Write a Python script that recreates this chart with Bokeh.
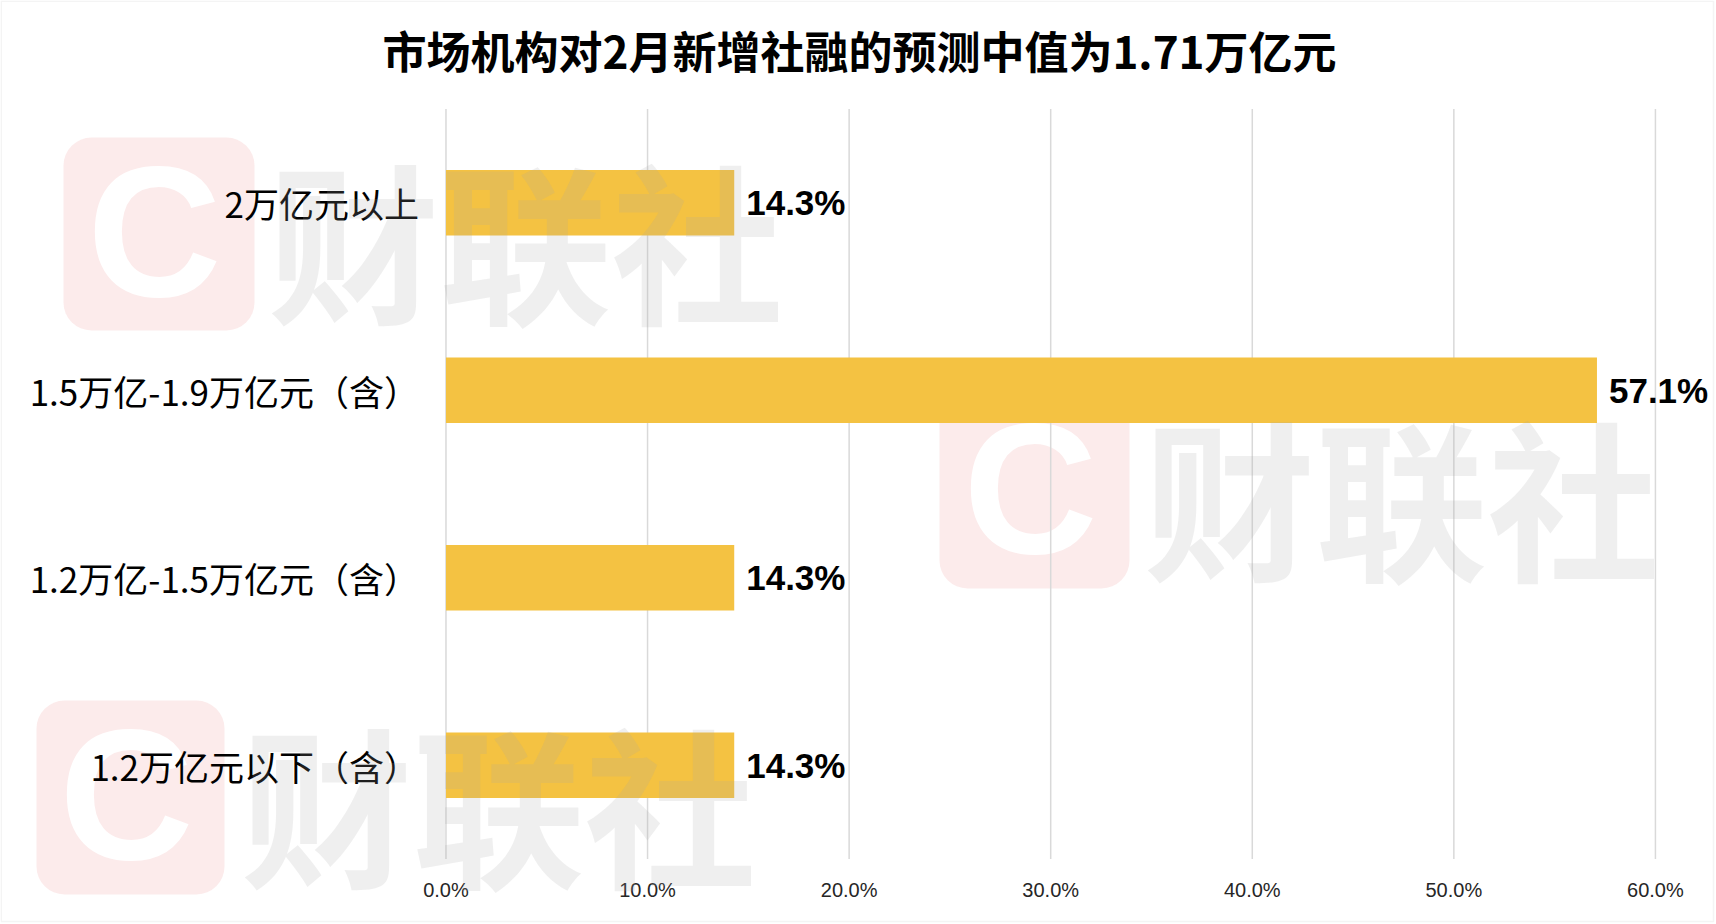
from bokeh.plotting import figure
from bokeh.models import (Range1d, FixedTicker, NumeralTickFormatter,
                          ColumnDataSource, LabelSet, Label, BoxAnnotation)
from bokeh.core.properties import value
from bokeh.embed import file_html
from bokeh.resources import INLINE

# ---- data ----
categories = ["2万亿元以上", "1.5万亿-1.9万亿元（含）", "1.2万亿-1.5万亿元（含）", "1.2万亿元以下（含）"]
shares = [0.143, 0.571, 0.143, 0.143]
share_labels = ["14.3%", "57.1%", "14.3%", "14.3%"]
x_ticks = [0.0, 0.1, 0.2, 0.3, 0.4, 0.5, 0.6]
title_text = "市场机构对2月新增社融的预测中值为1.71万亿元"

CJK = "Noto Sans CJK SC"
BAR = "#F4C242"
GRID = "#d9d9d9"

n = len(categories)
ypos = list(range(n))[::-1]          # top category at the top
src = ColumnDataSource(dict(y=ypos, cat=categories, val=shares, lab=share_labels))

W, H = 1716, 924
X0, X1 = -0.2210, 0.6303
Y0, Y1 = -0.8493, n - 0.5 + 0.5787
p = figure(width=W, height=H,
           x_range=Range1d(X0, X1), y_range=Range1d(Y0, Y1),
           output_backend="svg", toolbar_location=None,
           min_border_left=0, min_border_right=0,
           min_border_top=0, min_border_bottom=0)
p.outline_line_color = None
p.background_fill_color = "white"
p.border_fill_color = "white"
p.xgrid.grid_line_color = None
p.ygrid.grid_line_color = None


def dx(px):  # screen px (from left) -> data x, for the decorative watermark only
    return X0 + px * (X1 - X0) / W


def dy(py):  # screen px (from bottom) -> data y
    return Y0 + py * (Y1 - Y0) / H


# watermark logo squares with the "C" (decorative), drawn underneath
marks = [
    dict(sq=(63, 254, 787, 594), c=(154, 693), t=(525, 689)),
    dict(sq=(939, 1129, 530, 336), c=(1030, 436), t=(1401, 431.5)),
    dict(sq=(36, 224, 224, 30), c=(126, 130), t=(498, 125)),
]
p.quad(left=[dx(m["sq"][0]) for m in marks], right=[dx(m["sq"][1]) for m in marks],
       top=[dy(m["sq"][2]) for m in marks], bottom=[dy(m["sq"][3]) for m in marks],
       fill_color="#e63c3c", fill_alpha=0.1, line_color=None, border_radius=28)
p.text(x=[dx(m["c"][0]) for m in marks], y=[dy(m["c"][1]) for m in marks],
       text=["C"] * len(marks), text_align="center", text_baseline="middle",
       text_font=value("Liberation Sans"), text_font_style="bold",
       text_font_size=value("186px"), text_color="white")

# vertical grid lines at the tick values, spanning the category band
p.segment(x0=x_ticks, x1=x_ticks, y0=[-0.5] * len(x_ticks), y1=[n - 0.5] * len(x_ticks),
          line_color=GRID, line_width=1.5)

p.hbar(y="y", right="val", left=0, height=0.35, source=src,
       fill_color=BAR, line_color=None)

# axes (fixed inside the frame so that nothing is clipped)
xa = p.xaxis[0]
xa.fixed_location = -0.5
xa.ticker = FixedTicker(ticks=x_ticks)
xa.formatter = NumeralTickFormatter(format="0.0%")
xa.axis_line_color = None
xa.major_tick_line_color = None
xa.minor_tick_line_color = None
xa.major_tick_out = 0
xa.major_tick_in = 0
xa.major_label_standoff = 20
xa.major_label_text_font = "Liberation Sans"
xa.major_label_text_font_size = "20px"
xa.major_label_text_color = "#262626"

ya = p.yaxis[0]
ya.fixed_location = 0
ya.ticker = FixedTicker(ticks=ypos)
ya.major_label_overrides = {y: c for y, c in zip(ypos, categories)}
ya.axis_line_color = None
ya.major_tick_line_color = None
ya.minor_tick_line_color = None
ya.major_tick_out = 0
ya.major_tick_in = 0
ya.major_label_standoff = 27
ya.major_label_text_font = CJK
ya.major_label_text_font_size = "35px"
ya.major_label_text_color = "black"

# value labels
p.add_layout(LabelSet(x="val", y="y", text="lab", source=src, x_offset=12,
                      text_baseline="middle", text_align="left",
                      text_font=value("Liberation Sans"), text_font_style="bold",
                      text_font_size="35px", text_color="black"))

# watermark wordmark, translucent over everything
for m in marks:
    p.add_layout(Label(x=m["t"][0], y=m["t"][1], x_units="screen", y_units="screen",
                       text="财联社", text_align="center", text_baseline="middle",
                       text_font=CJK, text_font_style="bold", text_font_size="172px",
                       text_color="#a8a8a8", text_alpha=0.18))

# title
p.add_layout(Label(x=859, y=875, x_units="screen", y_units="screen",
                   text=title_text, text_align="center", text_baseline="middle",
                   text_font=CJK, text_font_style="bold", text_font_size="44px",
                   text_color="black"))

# thin frame around the whole picture
p.add_layout(BoxAnnotation(left=0.75, right=1713, top=923.25, bottom=3,
                           left_units="screen", right_units="screen",
                           top_units="screen", bottom_units="screen",
                           fill_color=None, line_color=GRID, line_width=1.5))

open("out.html", "w").write(file_html(p, INLINE))
